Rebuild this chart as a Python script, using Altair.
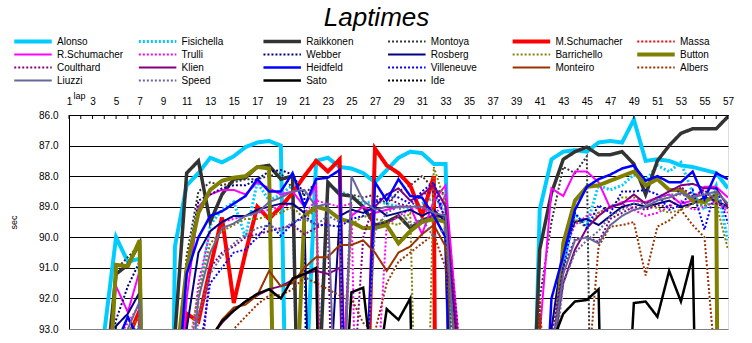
import altair as alt
import pandas as pd

laps = list(range(1, 58))
lap_labels = list(range(1, 58, 2))
sec_ticks = [86, 87, 88, 89, 90, 91, 92, 93]

drivers = ["Alonso", "Fisichella", "Raikkonen", "Montoya", "M.Schumacher", "Massa",
           "R.Schumacher", "Trulli", "Webber", "Rosberg", "Barrichello", "Button",
           "Coulthard", "Klien", "Heidfeld", "Villeneuve", "Monteiro", "Albers",
           "Liuzzi", "Speed", "Sato", "Ide"]

alonso = [100.4, 110.2, 112.0, 93.1, 90.0, 90.8, 90.7, 118.0, 121.0, 90.3,
          88.3, 87.9, 87.4, 87.55, 87.35, 87.05, 86.9, 86.85, 87.0, 108.0,
          96.0, 87.5, 87.4, 87.7, 87.75, 87.9, 88.2, 87.8, 87.4, 87.2,
          87.25, 87.6, 87.6, 104.0, 125.0, 127.0, 126.0, 124.0, 120.0, 104.0,
          89.1, 87.45, 87.2, 87.15, 87.2, 86.9, 86.85, 86.9, 86.15, 87.5,
          87.45, 87.5, 87.65, 87.7, 87.8, 87.9, 88.4]
fisichella = [100.8, 110.5, 112.3, 95.0, 93.6, 93.3, 92.9, 118.5, 121.3, 97.0,
              95.5, 92.0, 89.6, 89.1, 88.85, 90.0, 88.2, 88.8, 88.6, 88.3,
              106.0, 96.0, 88.3, 88.5, 88.65, 88.9, 88.8, 88.9, 89.0, 89.05,
              88.9, 88.7, 89.1, 105.0, 125.2, 127.1, 126.2, 124.1, 120.3, 106.0,
              99.0, 93.5, 91.0, 89.25, 89.6, 88.3, 88.45, 88.3, 87.95, 88.15,
              87.65, 87.85, 87.55, 88.55, 89.1, 88.3, 90.1]
raikkonen = [100.6, 110.4, 112.1, 95.0, 91.2, 90.9, 90.2, 118.2, 121.1, 93.2,
             87.9, 87.5, 89.5, 88.6, 88.1, 88.05, 87.7, 87.65, 88.1, 88.0,
             106.0, 97.0, 88.2, 88.6, 88.65, 89.0, 89.6, 89.5, 89.3, 89.7,
             89.45, 89.3, 89.3, 104.0, 125.1, 127.0, 126.1, 124.0, 120.1, 100.0,
             90.4, 88.55, 87.45, 87.2, 87.05, 87.3, 87.3, 87.2, 87.6, 88.6,
             87.5, 87.0, 86.6, 86.45, 86.45, 86.45, 86.05]
montoya = [100.7, 110.6, 112.2, 95.5, 91.05, 90.65, 90.25, 118.3, 121.2, 96.0,
           90.6, 88.5, 88.2, 88.3, 88.2, 88.1, 88.1, 88.0, 87.9, 88.4,
           88.6, 88.2, 107.0, 97.0, 88.6, 88.7, 88.6, 88.9, 88.5, 88.3,
           88.0, 88.4, 88.6, 104.5, 125.0, 127.2, 126.0, 124.2, 120.0, 103.0,
           92.0, 89.5, 87.7, 87.9, 87.35, 115.0] + [None] * 11
mschumacher = [101.0, 110.8, 112.5, 96.0, 95.0, 93.3, 92.4, 118.6, 121.4, 97.5,
               92.5, 92.75, 91.0, 89.35, 92.15, 90.5, 89.0, 89.4, 89.0, 88.55,
               88.0, 87.5, 87.85, 87.45, 112.0, 100.0, 87.1, 87.65, 87.9, 88.3,
               89.3, 88.0, 150.0] + [None] * 24
massa = [135.0] + [None] * 56
rschumacher = [100.9, 110.7, 112.4, 95.2, 91.6, 92.45, 91.1, 118.4, 121.5, 97.0,
               92.0, 89.0, 88.6, 88.45, 88.45, 88.6, 88.2, 88.4, 88.6, 88.5,
               89.0, 88.3, 110.0, 96.0, 89.3, 89.0, 89.2, 89.1, 89.0, 89.0,
               89.9, 88.8, 88.3, 92.9, 125.3, 127.3, 126.3, 124.3, 120.4, 102.0,
               93.2, 88.4, 88.65, 87.85, 87.85, 88.2, 89.05, 88.85, 88.8, 88.85,
               88.7, 88.6, 88.9, 88.8, 88.35, 88.35, 88.7]
trulli = [101.1, 110.9, 112.6, 96.5, 93.4, 92.8, 92.2, 118.7, 121.6, 98.0,
          95.0, 91.5, 89.8, 89.5, 89.4, 89.3, 89.2, 89.1, 89.0, 88.9,
          89.2, 88.8, 88.9, 89.0, 88.9, 108.0, 96.0, 89.6, 89.3, 89.1,
          89.0, 89.4, 88.6, 92.8, 125.4, 127.4, 126.4, 124.4, 120.5, 106.0,
          99.0, 94.0, 90.5, 89.6, 89.3, 89.2, 89.0, 88.9, 89.1, 89.3,
          89.2, 89.0, 88.8, 89.1, 89.0, 88.8, 89.2]
webber = [100.3, 110.1, 111.9, 94.5, 92.7, 91.6, 90.8, 118.1, 120.9, 96.5,
          91.0, 88.8, 88.6, 88.4, 88.3, 88.3, 88.1, 87.85, 87.8, 87.95,
          88.6, 130.0] + [None] * 35
rosberg = [101.2, 111.0, 112.7, 96.0, 92.9, 92.5, 91.8, 118.8, 121.7, 98.5,
           93.0, 90.5, 89.8, 89.5, 89.3, 89.3, 89.1, 89.0, 88.9, 88.9,
           89.2, 107.0, 96.0, 89.3, 89.1, 89.2, 89.0, 89.3, 89.2, 89.1,
           89.3, 89.1, 89.5, 93.5, 125.5, 127.5, 126.5, 124.5, 120.6, 105.0,
           98.0, 93.0, 90.3, 89.5, 89.4, 89.6, 89.3, 89.0, 88.9, 89.0,
           88.9, 88.8, 89.0, 88.9, 88.7, 88.8, 89.0]
barrichello = [101.3, 111.1, 112.8, 97.0, 93.6, 93.1, 92.6, 118.9, 121.8, 99.0,
               94.0, 91.8, 90.2, 89.8, 89.6, 89.4, 89.4, 89.3, 89.2, 89.0,
               89.4, 89.1, 108.0, 97.0, 89.6, 89.3, 89.4, 89.5, 89.6, 89.2,
               105.0, 87.7, 88.9, 104.0, 125.6, 127.6, 126.6, 124.6, 120.7, 107.0,
               100.0, 95.0, 90.5, 89.4, 89.7, 89.2, 89.0, 88.7, 88.7, 88.9,
               89.05, 89.2, 89.1, 88.9, 88.95, 88.9, 90.4]
button = [101.4, 111.2, 112.9, 98.0, 90.9, 90.95, 90.1, 119.0, 121.9, 94.5,
          91.0, 89.2, 88.45, 88.15, 88.05, 88.0, 87.7, 87.75, 108.0, 98.0,
          89.3, 89.0, 89.1, 89.4, 89.5, 89.7, 89.7, 89.6, 90.2, 89.8,
          89.5, 89.4, 89.5, 104.0, 125.7, 127.7, 126.7, 124.7, 120.8, 108.0,
          101.0, 95.0, 90.2, 88.8, 88.35, 88.3, 88.15, 88.0, 87.85, 88.3,
          88.1, 88.45, 88.45, 88.8, 88.85, 88.6, 150.0]
coulthard = [101.5, 111.3, 113.0, 97.5, 93.8, 93.5, 93.3, 119.1, 122.0, 99.5,
             96.0, 95.0, 91.0, 90.5, 90.3, 90.0, 89.9, 89.8, 89.7, 89.6,
             89.9, 89.7, 89.5, 108.0, 96.0, 90.0, 88.8, 88.7, 88.9, 89.0,
             88.6, 88.5, 89.4, 92.8, 125.8, 127.8, 126.8, 124.8, 120.9, 106.0,
             96.0, 93.2, 91.0, 90.05, 90.0, 90.15, 89.4, 89.2, 89.0, 89.1,
             88.95, 89.0, 88.35, 88.65, 88.45, 88.9, 89.05]
klien = [101.6, 111.4, 113.1, 98.5, 94.5, 94.0, 93.8, 119.2, 122.1, 100.0,
         97.0, 95.5, 93.3, 92.8, 92.4, 92.1, 91.9, 91.7, 91.6, 91.4,
         91.2, 91.1, 91.2, 91.0, 108.0, 97.0, 89.0, 88.6, 88.4, 88.8,
         88.6, 88.3, 89.0, 93.5, 125.9, 127.9, 126.9, 124.9, 121.0, 107.0,
         99.0, 94.0, 91.5, 90.4, 89.7, 89.3, 89.0, 88.9, 88.6, 88.9,
         88.7, 88.5, 88.3, 88.25, 88.4, 88.4, 89.0]
heidfeld = [101.7, 111.5, 113.2, 96.0, 93.5, 92.6, 93.4, 119.3, 122.2, 96.0,
            91.2, 90.0, 89.3, 89.15, 88.9, 88.65, 88.1, 88.5, 88.5, 87.9,
            89.0, 88.1, 88.05, 87.8, 107.0, 97.0, 88.2, 88.8, 88.1, 88.65,
            88.7, 89.3, 90.0, 105.0, 126.0, 128.0, 127.0, 125.0, 121.1, 104.0,
            99.0, 92.0, 90.6, 89.1, 88.35, 88.1, 87.95, 87.75, 87.65, 88.15,
            88.0, 88.2, 88.2, 87.85, 88.75, 87.9, 88.1]
villeneuve = [101.8, 111.6, 113.3, 98.0, 94.0, 93.4, 93.1, 119.4, 122.3, 99.0,
              96.0, 94.0, 91.5, 91.0, 90.5, 90.4, 90.0, 89.55, 89.95, 89.55,
              89.3, 89.6, 89.6, 89.65, 89.4, 89.3, 88.9, 88.6, 88.7, 88.9,
              88.5, 88.2, 89.5, 94.0, 126.1, 128.1, 127.1, 125.1, 121.2, 106.0,
              99.0, 94.0, 91.0, 89.2, 89.7, 88.95, 89.2, 88.5, 88.5, 88.45,
              88.6, 89.1, 88.95, 88.45, 89.75, 88.35, 89.55]
monteiro = [102.0, 111.8, 113.5, 99.0, 95.0, 94.5, 94.2, 119.6, 122.5, 101.0,
            98.0, 96.0, 93.4, 92.7, 92.3, 92.2, 91.9, 91.1, 91.6, 91.5,
            91.0, 90.65, 90.65, 90.25, 90.25, 90.1, 90.5, 91.1, 90.5, 90.3,
            89.9, 89.6, 90.3, 94.0, 126.3, 128.3, 127.3, 125.3, 121.4, 110.0,
            92.5, 105.0] + [None] * 15
albers = [102.1, 111.9, 113.6, 99.5, 95.5, 95.0, 94.6, 119.7, 122.6, 101.5,
          98.5, 96.5, 94.5, 93.5, 93.0, 92.6, 92.2, 91.9, 91.9, 91.7,
          91.3, 91.5, 91.7, 91.9, 92.0, 92.8, 93.1, 91.5, 90.8, 90.5,
          90.2, 89.9, 91.0, 95.0, 126.4, 128.4, 127.4, 125.4, 121.5, 108.0,
          92.0, 99.0, 100.0, 99.0, 95.0, 90.3, 89.65, 89.6, 89.5, 91.25,
          89.65, 89.45, 89.1, 89.6, 90.0, 94.5, 96.0]
liuzzi = [101.9, 111.7, 113.4, 97.0, 93.5, 93.0, 92.1, 119.5, 122.4, 98.0,
          96.0, 92.0, 90.5, 89.7, 89.55, 89.3, 89.2, 88.85, 88.7, 88.5,
          88.45, 89.0, 88.9, 100.0, 88.0, 88.8, 89.1, 89.0, 89.0, 89.0,
          89.0, 89.2, 89.3, 95.0, 126.2, 128.2, 127.2, 125.2, 121.3, 107.0,
          99.0, 94.0, 91.2, 90.1, 90.0, 90.2, 89.6, 89.3, 89.1, 89.0,
          88.8, 88.7, 88.55, 88.7, 88.6, 88.5, 88.9]
speed = [102.2, 112.0, 113.7, 98.0, 94.2, 93.6, 92.9, 119.8, 122.7, 100.5,
         97.0, 92.6, 91.2, 90.6, 90.2, 89.9, 89.7, 89.6, 89.8, 89.5,
         89.4, 89.6, 89.3, 89.5, 106.0, 96.0, 89.8, 89.2, 89.0, 89.6,
         89.4, 90.0, 89.7, 95.0, 126.5, 128.5, 127.5, 125.5, 121.6, 108.0,
         100.0, 95.0, 91.5, 90.5, 90.1, 89.8, 89.3, 89.1, 88.9, 88.9,
         88.75, 88.6, 88.6, 88.7, 88.55, 88.7, 89.1]
sato = [102.4, 112.2, 113.9, 100.0, 96.0, 95.5, 95.0, 120.0, 122.9, 102.0,
        99.0, 97.0, 93.3, 92.75, 92.4, 92.1, 91.85, 91.7, 92.0, 91.35,
        91.2, 91.0, 110.0, 98.0, 91.8, 91.65, 95.0, 92.35, 92.7, 92.0,
        110.0, 100.0, 97.0, 96.0, 126.7, 128.7, 127.7, 125.7, 121.8, 110.0,
        100.0, 93.5, 92.5, 92.1, 92.05, 91.7, 110.0, 99.0, 92.15, 92.1,
        92.6, 91.1, 92.1, 90.6, 110.0, 100.0, 99.0]
ide = [102.5, 112.3, 114.0, 101.0, 97.0, 96.5, 96.0, 120.1, 123.0, 103.0,
       100.0, 98.0, 96.0, 95.0, 94.5, 94.2, 94.0, 93.8, 94.1, 93.7,
       93.6, 93.9, 93.5, 93.8, 110.0, 99.0, 94.0, 93.6, 93.4, 93.5,
       93.3, 93.6, 93.4, 97.0, 126.8, 128.8, 127.8, 125.8, 121.9, 111.0,
       101.0, 96.0, 94.5, 94.0, 93.8, 93.6, 93.5, 93.7, 93.4, 93.6,
       93.5, 93.3, 93.6, 93.4, 93.5, 93.3, 93.4]

series = [alonso, fisichella, raikkonen, montoya, mschumacher, massa,
          rschumacher, trulli, webber, rosberg, barrichello, button,
          coulthard, klien, heidfeld, villeneuve, monteiro, albers,
          liuzzi, speed, sato, ide]

# styles
colors = ["#00CCFF", "#00CCFF", "#333333", "#333333", "#FF0000", "#FF0000",
          "#FF00FF", "#FF00FF", "#000080", "#000080", "#808000", "#808000",
          "#800080", "#800080", "#0000FF", "#0000FF", "#993300", "#993300",
          "#666699", "#666699", "#000000", "#000000"]
widths = [4, 3, 3.5, 2, 4, 2, 2, 2, 2, 2, 2, 4, 2, 2, 2.5, 2, 2, 2, 2, 2, 2.5, 2]
dotted = [False, True, False, True, False, True, False, True, True, False, True, False,
          True, False, False, True, False, True, False, True, False, True]
dashes = [[2, 2] if d else [1, 0] for d in dotted]

rows = []
for d, vals, w, dt in zip(drivers, series, widths, dotted):
    for lap, v in zip(laps, vals):
        if v is not None:
            rows.append({"driver": d, "lap": lap, "sec": v, "w": w, "dot": dt})
df = pd.DataFrame(rows)
under_df = df[df["dot"]]

FONT = "Liberation Sans"

x_axis = alt.Axis(orient="top", values=lap_labels, ticks=False, labelPadding=9,
                  labelFontSize=10, labelFont=FONT, labelColor="black",
                  labelAngle=0, labelOverlap=False, labelFlush=False, labelBound=False,
                  labelSeparation=0,
                  grid=False, domainColor="black", domainWidth=1,
                  title="lap", titleFontSize=9, titleFont=FONT,
                  titleFontWeight="normal", titleX=10, titleY=-20,
                  titleAlign="center", titleBaseline="middle")
x_scale = alt.Scale(domain=[1, 57], nice=False, zero=False)
x_enc = alt.X("lap:Q", scale=x_scale, axis=x_axis)
y_enc = alt.Y("sec:Q",
              scale=alt.Scale(domain=[86, 93], reverse=True, nice=False, zero=False),
              axis=alt.Axis(values=sec_ticks, format=".1f", ticks=False, labelPadding=11,
                            labelFontSize=10, labelFont=FONT, labelColor="black",
                            labelOverlap=False,
                            grid=True,
                            gridColor={"condition": {"test": "datum.value >= 93", "value": "#808080"},
                                       "value": "black"},
                            gridWidth=1, domainColor="black", domainWidth=1,
                            title="sec", titleFontSize=9, titleFont=FONT,
                            titleFontWeight="normal", titleX=-56, titleY=107,
                            titleAngle=-90, titleAlign="center", titleBaseline="middle"))

legend = alt.Legend(title=None, orient="none", legendX=-57, legendY=-80,
                    direction="horizontal", columns=6, symbolType="stroke",
                    symbolSize=1406, labelFontSize=10, labelFont=FONT, labelColor="black",
                    labelOffset=3, columnPadding=11.6, rowPadding=0, clipHeight=13,
                    gridAlign="all", padding=0, symbolOffset=0)

under = alt.Chart(under_df).mark_line(color="white", clip=True).encode(
    x=x_enc, y=y_enc, detail="driver:N",
    strokeWidth=alt.StrokeWidth("w:Q", scale=None),
)

main = alt.Chart(df).mark_line(clip=True).encode(
    x=x_enc, y=y_enc,
    color=alt.Color("driver:N", scale=alt.Scale(domain=drivers, range=colors), legend=legend),
    strokeDash=alt.StrokeDash("driver:N", scale=alt.Scale(domain=drivers, range=dashes), legend=legend),
    strokeWidth=alt.StrokeWidth("driver:N", scale=alt.Scale(type="ordinal", domain=drivers, range=widths),
                                legend=legend),
)

tick_df = pd.DataFrame({"lap": laps})
ticks = alt.Chart(tick_df).mark_rule(color="black", strokeWidth=1).encode(
    x=alt.X("lap:Q", scale=x_scale, axis=x_axis), y=alt.value(0), y2=alt.value(4)
)

chart = alt.layer(under, main, ticks).properties(
    width=659, height=214,
    autosize=alt.AutoSizeParams(type="none"),
    padding={"left": 69, "top": 115, "right": 24, "bottom": 14},
    title=alt.TitleParams(text="Laptimes", fontSize=26, font=FONT, fontStyle="italic",
                          fontWeight="normal", anchor="middle", frame="group", dx=-22,
                          color="black"),
).configure_view(fill="#C0C0C0", stroke="#808080", strokeWidth=1
).configure_axis(labelOverlap=False
).configure(background="white")

chart.save("out.html", embed_options={"renderer": "svg", "actions": False})
